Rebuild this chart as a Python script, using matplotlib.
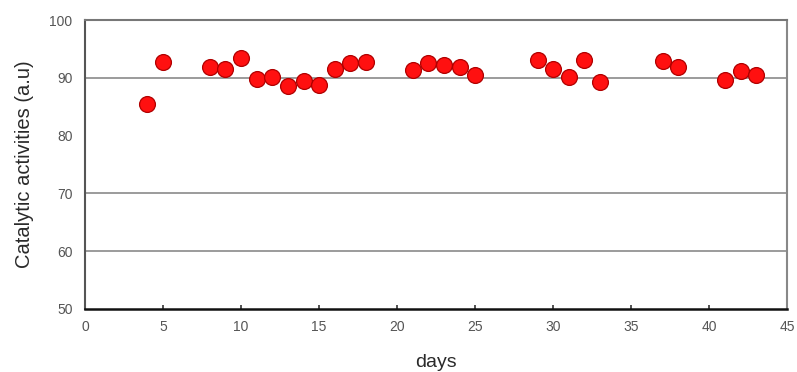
import matplotlib.pyplot as plt

# values
days = [4, 5, 8, 9, 10, 11, 12, 13, 14, 15, 16, 17, 18,
        21, 22, 23, 24, 25, 29, 30, 31, 32, 33, 37, 38, 41, 42, 43]
activity = [85.5, 92.7, 91.9, 91.6, 93.5, 89.8, 90.1, 88.5, 89.5, 88.8, 91.6, 92.6, 92.7,
            91.3, 92.6, 92.3, 91.9, 90.5, 93.1, 91.6, 90.1, 93.1, 89.2, 92.9, 91.8, 89.7, 91.2, 90.4]
x_ticks = [0, 5, 10, 15, 20, 25, 30, 35, 40, 45]
y_ticks = [50, 60, 70, 80, 90, 100]
grid_levels = [60, 70, 90]

plt.rcParams["font.family"] = ["Liberation Sans", "DejaVu Sans"]

fig = plt.figure(figsize=(7.97, 3.72), dpi=100)
ax = fig.add_axes([0.1066, 0.1694, 0.8814, 0.7768])

for lvl in grid_levels:
    ax.axhline(lvl, color="#8a8a8a", linewidth=1.2, zorder=1)

ax.scatter(days, activity, s=130, color="#ff1010", edgecolors="#b00000",
           linewidths=0.9, zorder=3)

ax.set_xlim(0, 45)
ax.set_ylim(50, 100)
ax.set_xticks(x_ticks)
ax.set_yticks(y_ticks)
ax.tick_params(axis="x", direction="in", length=3, width=1.2, color="#333333",
               labelsize=10, labelcolor="#555555", pad=8)
ax.tick_params(axis="y", length=0, labelsize=10, labelcolor="#555555", pad=9)

ax.spines["left"].set_color("#555555")
ax.spines["left"].set_linewidth(1.5)
ax.spines["bottom"].set_color("#111111")
ax.spines["bottom"].set_linewidth(1.8)
ax.spines["top"].set_color("#777777")
ax.spines["top"].set_linewidth(1.5)
ax.spines["right"].set_color("#888888")
ax.spines["right"].set_linewidth(1.5)

ax.set_ylabel("Catalytic activities (a.u)", fontsize=14.5, color="#2a2a2a", labelpad=11)
ax.set_xlabel("days", fontsize=14, color="#2a2a2a", labelpad=14)

fig.savefig("out.png", dpi=100)
